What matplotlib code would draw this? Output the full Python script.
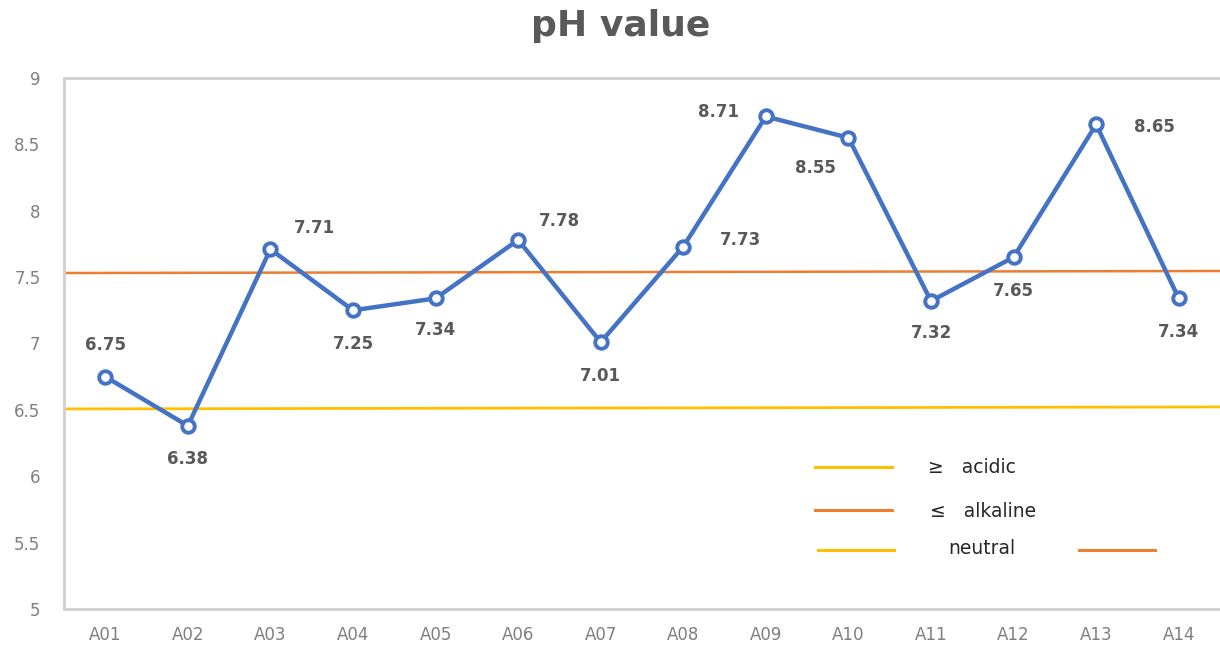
import matplotlib.pyplot as plt

samples = ["A01", "A02", "A03", "A04", "A05", "A06", "A07",
           "A08", "A09", "A10", "A11", "A12", "A13", "A14"]
ph = [6.75, 6.38, 7.71, 7.25, 7.34, 7.78, 7.01,
      7.73, 8.71, 8.55, 7.32, 7.65, 8.65, 7.34]

# threshold lines (slightly tilted in the original)
alkaline_line = [7.531, 7.546]
acidic_line = [6.507, 6.522]

# label offsets in points (dx, dy) for each data label
label_offsets = [(0, 23), (0, -24), (32, 15), (0, -24), (0, -23), (30, 14), (0, -24),
                 (41, 5), (-34, 3), (-24, -22), (0, -23), (0, -24), (42, -2), (0, -24)]

BLUE = "#4472c4"
ORANGE = "#ed7d31"
YELLOW = "#ffc000"
GRAY = "#595959"

fig = plt.figure(figsize=(12.2, 6.5), dpi=100)
ax = fig.add_axes([64 / 1220, 41 / 650, 1156 / 1220, 531 / 650])

xs = list(range(len(samples)))
ax.plot(xs, ph, color=BLUE, linewidth=3.2, marker="o", markersize=9,
        markerfacecolor="white", markeredgecolor=BLUE, markeredgewidth=2.8,
        zorder=3)

ax.plot([-0.5, len(samples) - 0.5], alkaline_line, color=ORANGE, linewidth=1.8, zorder=2)
ax.plot([-0.5, len(samples) - 0.5], acidic_line, color=YELLOW, linewidth=2.0, zorder=2)

for i, v in enumerate(ph):
    dx, dy = label_offsets[i]
    ax.annotate(f"{v:.2f}", (i, v), xytext=(dx, dy), textcoords="offset points",
                ha="center", va="center", fontsize=12, fontweight="bold", color=GRAY)

ax.set_xlim(-0.5, len(samples) - 0.5)
ax.set_ylim(5, 9)
ax.set_yticks([5, 5.5, 6, 6.5, 7, 7.5, 8, 8.5, 9])
ax.set_yticklabels(["5", "5.5", "6", "6.5", "7", "7.5", "8", "8.5", "9"])
ax.set_xticks(xs)
ax.set_xticklabels(samples)
ax.tick_params(length=0, colors="#7f7f7f", labelsize=12, pad=12)
ax.tick_params(axis="y", pad=17)
for s in ["left", "bottom", "top"]:
    ax.spines[s].set_color("#d0d0d0")
    ax.spines[s].set_linewidth(2)
ax.spines["right"].set_visible(False)

# hand-made legend
tr = ax.transAxes
ax.plot([0.650, 0.716], [0.267, 0.267], transform=tr, color=YELLOW, linewidth=2.2)
ax.plot([0.650, 0.716], [0.186, 0.186], transform=tr, color=ORANGE, linewidth=2.2)
ax.plot([0.652, 0.718], [0.111, 0.111], transform=tr, color=YELLOW, linewidth=2.2)
ax.plot([0.878, 0.944], [0.112, 0.112], transform=tr, color=ORANGE, linewidth=2.2)
ax.text(0.747, 0.267, "≥   acidic", transform=tr, fontsize=13.5, color="#262626", va="center")
ax.text(0.749, 0.183, "≤   alkaline", transform=tr, fontsize=13.5, color="#262626", va="center")
ax.text(0.765, 0.113, "neutral", transform=tr, fontsize=13.5, color="#262626", va="center")

fig.text(0.509, 0.96, "pH value", ha="center", va="center", fontsize=26,
         fontweight="bold", color=GRAY)

plt.savefig("out.png")
